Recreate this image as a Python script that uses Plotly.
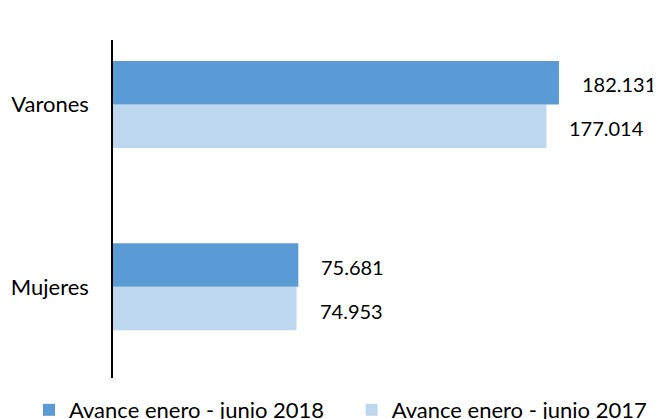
import plotly.graph_objects as go

categories = ["Mujeres", "Varones"]
values_2018 = [75681, 182131]
values_2017 = [74953, 177014]
series_names = ["Avance enero - junio 2018", "Avance enero - junio 2017"]
colors = ["#5B9BD5", "#BDD7EE"]

def fmt(v):
    return f"{v:,}".replace(",", ".")

FONT = "Lato"
# the page adds an 8px body margin, so the figure is sized/offset to compensate
W, H = 653, 411
PAD = "\u00a0" * 4  # spacing between the two legend entries

fig = go.Figure()
fig.add_trace(go.Bar(y=categories, x=values_2017, orientation="h", name=series_names[1],
                     marker=dict(color=colors[1], line=dict(width=0)), legendrank=2))
fig.add_trace(go.Bar(y=categories, x=values_2018, orientation="h", name=series_names[0] + PAD,
                     marker=dict(color=colors[0], line=dict(width=0)), legendrank=1))

for i, c in enumerate(categories):
    fig.add_annotation(x=values_2018[i], y=i, yshift=20, text=fmt(values_2018[i]),
                       xanchor="left", xshift=21, showarrow=False,
                       font=dict(family=FONT, size=20, color="#000"))
    fig.add_annotation(x=values_2017[i], y=i, yshift=-24, text=fmt(values_2017[i]),
                       xanchor="left", xshift=21, showarrow=False,
                       font=dict(family=FONT, size=20, color="#000"))

fig.update_layout(
    width=W, height=H,
    margin=dict(l=105, r=0, t=32, b=41, autoexpand=False),
    paper_bgcolor="white", plot_bgcolor="white",
    barmode="group", bargap=0.523, bargroupgap=0,
    font=dict(family=FONT, size=20, color="#000"),
    xaxis=dict(range=[0, 223800], visible=False, showgrid=False, zeroline=False),
    yaxis=dict(type="category", range=[-0.5, 1.353], showline=True, linecolor="#000",
               linewidth=1.5, showgrid=False, ticks="", ticklabelstandoff=18,
               automargin=False,
               tickfont=dict(family=FONT, size=22, color="#000")),
    showlegend=True,
    legend=dict(orientation="h", x=-0.1533, xanchor="left", y=-0.0947, yanchor="middle",
                font=dict(family=FONT, size=22, color="#000"),
                itemwidth=30, bgcolor="rgba(0,0,0,0)"),
)

fig.write_html("out.html")
